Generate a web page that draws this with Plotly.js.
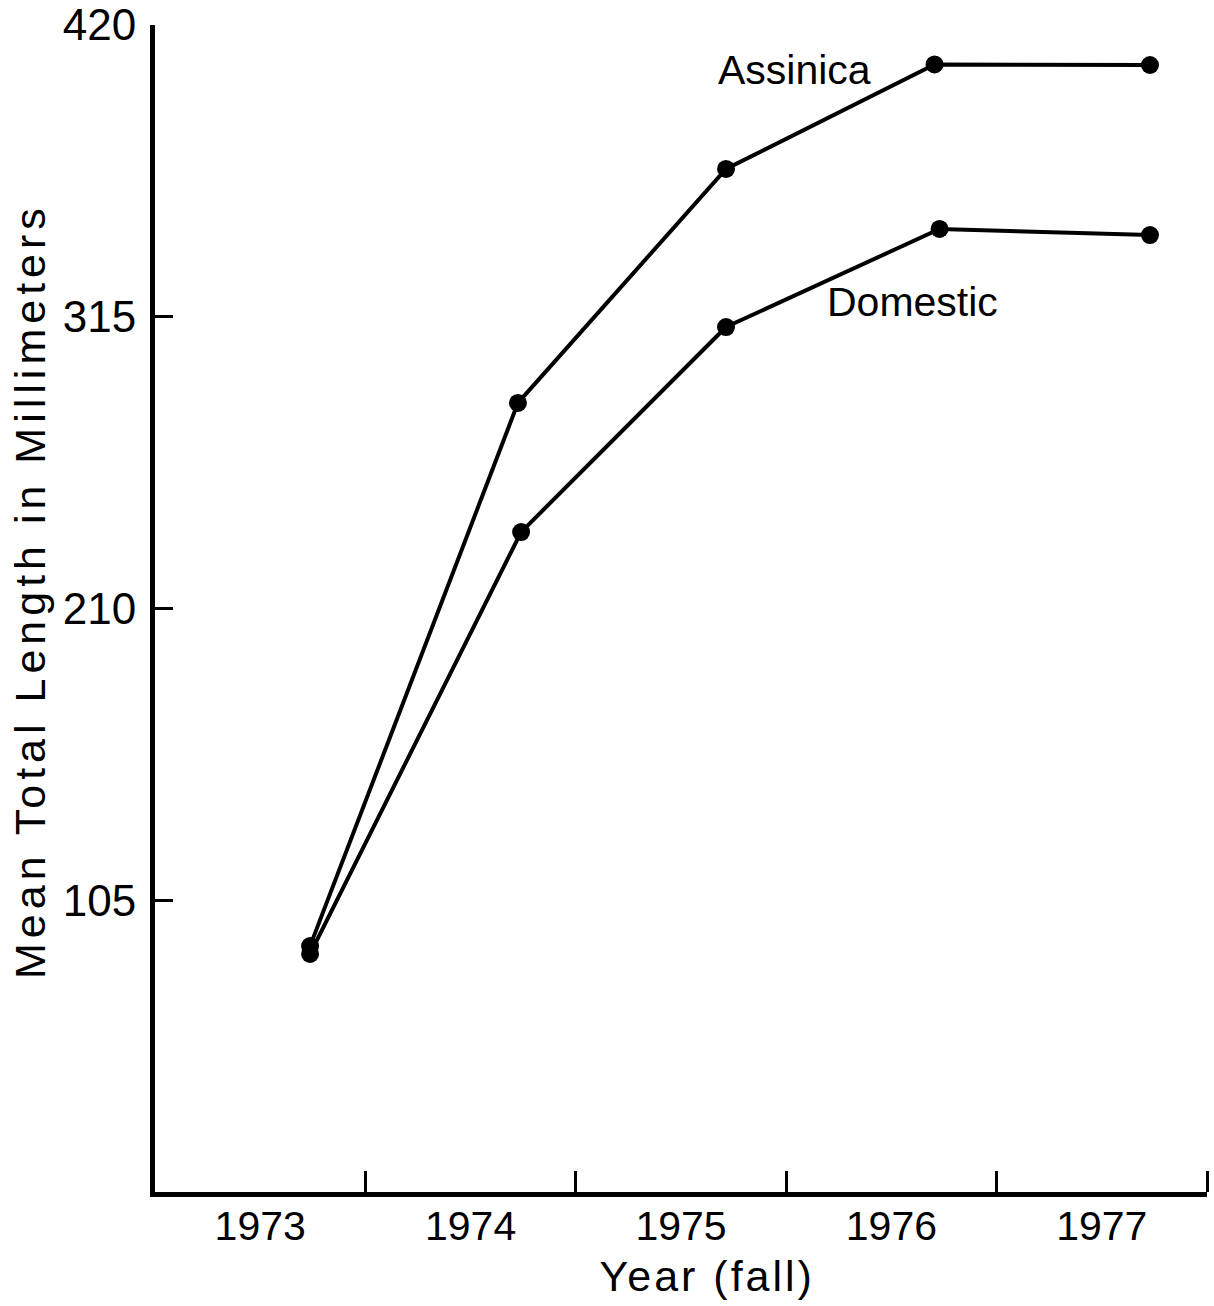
<!DOCTYPE html>
<html>
<head>
<meta charset="utf-8">
<script src="https://cdn.plot.ly/plotly-3.0.1.min.js"></script>
<style>
html,body{margin:0;padding:0;background:#fff;}
#chart{width:1214px;height:1306px;}
.annotation-text.axis-title-y{letter-spacing:5px;}
.annotation-text.axis-title-x{letter-spacing:3px;}
</style>
</head>
<body>
<div id="chart"></div>
<script>
// Data (x = year position of the fall sample)
const assinicaX = [1973.737, 1974.725, 1975.714, 1976.705, 1977.729];
const assinicaY = [88.5, 284, 368.2, 405.8, 405.6];
const domesticX = [1973.737, 1974.74, 1975.714, 1976.729, 1977.729];
const domesticY = [85.7, 237.5, 311.3, 346.6, 344.4];

const yearLabels = ["1973", "1974", "1975", "1976", "1977"];
const yearLabelPos = [1973.5, 1974.5, 1975.5, 1976.5, 1977.5];
const yearBounds = [1974, 1975, 1976, 1977, 1978];
const yTicks = [105, 210, 315, 420];

const seriesLabels = [
  {text: "Assinica", x: 1976.04, y: 403.8},
  {text: "Domestic", x: 1976.6, y: 320.3}
];

const xTitle = "Year (fall)";
const yTitle = "Mean Total Length in Millimeters";

const FONT = "Liberation Sans, Arial, Helvetica, sans-serif";

const lineStyle = {color: "#000", width: 4};
const markerStyle = {color: "#000", size: 18};

const traces = [
  {x: assinicaX, y: assinicaY, mode: "lines+markers", line: lineStyle, marker: markerStyle, name: "Assinica", showlegend: false, hoverinfo: "skip"},
  {x: domesticX, y: domesticY, mode: "lines+markers", line: lineStyle, marker: markerStyle, name: "Domestic", showlegend: false, hoverinfo: "skip"}
];

const annotations = seriesLabels.map(s => ({
  x: s.x, y: s.y, xref: "x", yref: "y", text: s.text, showarrow: false,
  font: {size: 41, family: FONT, color: "#000"}, xanchor: "center", yanchor: "middle"
}));
annotations.push({
  x: 0.5247, y: -0.072, xref: "paper", yref: "paper", text: xTitle, showarrow: false,
  font: {size: 43, family: FONT, color: "#000"}, xanchor: "center", yanchor: "middle",
  captureevents: false
});
annotations.push({
  x: -0.1188, y: 0.515, xref: "paper", yref: "paper", text: yTitle, showarrow: false,
  textangle: -90,
  font: {size: 43, family: FONT, color: "#000"}, xanchor: "center", yanchor: "middle"
});

const layout = {
  width: 1214,
  height: 1306,
  margin: {l: 155, r: 7, t: 25, b: 114},
  paper_bgcolor: "#fff",
  plot_bgcolor: "#fff",
  font: {family: FONT, color: "#000", size: 40},
  showlegend: false,
  xaxis: {
    range: [1973, 1978],
    showgrid: false,
    zeroline: false,
    showline: true,
    linewidth: 5,
    linecolor: "#000",
    tickmode: "array",
    tickvals: yearLabelPos,
    ticktext: yearLabels,
    ticks: "",
    ticklabelstandoff: -6,
    tickfont: {size: 41, family: FONT},
    minor: {tickmode: "array", tickvals: yearBounds, ticks: "inside", ticklen: 21, tickwidth: 3, tickcolor: "#000", showgrid: false},
    fixedrange: true
  },
  yaxis: {
    range: [0, 420],
    showgrid: false,
    zeroline: false,
    showline: true,
    linewidth: 5,
    linecolor: "#000",
    tickmode: "array",
    tickvals: yTicks,
    ticktext: yTicks.map(String),
    ticks: "inside",
    ticklen: 18,
    tickwidth: 3,
    tickcolor: "#000",
    ticklabelstandoff: 5,
    tickfont: {size: 44, family: FONT},
    fixedrange: true
  },
  annotations: annotations
};

Plotly.newPlot("chart", traces, layout, {staticPlot: true, displayModeBar: false}).then(() => {
  const texts = document.querySelectorAll(".annotation-text");
  texts.forEach(t => {
    if (t.textContent === yTitle) t.classList.add("axis-title-y");
    if (t.textContent === xTitle) t.classList.add("axis-title-x");
  });
});
</script>
</body>
</html>
